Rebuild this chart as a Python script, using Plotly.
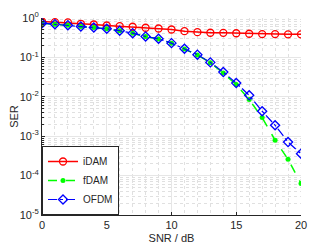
import plotly.graph_objects as go

snr = list(range(0, 21))
ser_idam = [0.815, 0.783, 0.77, 0.713, 0.684, 0.646, 0.62, 0.60, 0.565, 0.542, 0.511,
            0.463, 0.437, 0.422, 0.42, 0.41, 0.398, 0.39, 0.39, 0.385, 0.385]
ser_fdam = [0.735, 0.695, 0.655, 0.607, 0.573, 0.531, 0.472, 0.41, 0.338, 0.295, 0.228,
            0.164, 0.115, 0.073, 0.040, 0.0204, 0.0085, 0.00297, 0.00079, 0.00026, 0.000063]
ser_ofdm = [0.738, 0.697, 0.657, 0.609, 0.575, 0.533, 0.474, 0.412, 0.34, 0.297, 0.230,
            0.166, 0.117, 0.0747, 0.0424, 0.0223, 0.0109, 0.0043, 0.0019, 0.00071, 0.00036]

x_ticks = [0, 5, 10, 15, 20]
y_tickvals = [1, 1e-1, 1e-2, 1e-3, 1e-4, 1e-5]
y_ticktext = ["10<sup>0</sup>", "10<sup>-1</sup>", "10<sup>-2</sup>", "10<sup>-3</sup>",
              "10<sup>-4</sup>", "10<sup>-5</sup>"]
y_minor = [m * 10.0 ** e for e in range(-5, 0) for m in range(2, 10)]

fig = go.Figure()
fig.add_trace(go.Scatter(x=snr, y=ser_idam, name="iDAM", mode="lines+markers",
                         line=dict(color="#ff0000", width=1.5),
                         marker=dict(symbol="circle-open", size=7, color="#ff0000", line=dict(width=1.3))))
fig.add_trace(go.Scatter(x=snr, y=ser_fdam, name="fDAM", mode="lines+markers",
                         line=dict(color="#00ff00", width=1.5, dash="dash"),
                         marker=dict(symbol="circle", size=5, color="#00ff00")))
fig.add_trace(go.Scatter(x=snr, y=ser_ofdm, name="OFDM", mode="lines+markers",
                         line=dict(color="#0000ff", width=1.2, dash="dashdot"),
                         marker=dict(symbol="diamond-open", size=7, color="#0000ff", line=dict(width=1.3))))

axis_common = dict(showline=True, linecolor="#262626", linewidth=1, ticks="inside", ticklen=3,
                   tickcolor="#262626", gridcolor="#e6e6e6", gridwidth=1, zeroline=False,
                   tickfont=dict(size=11, color="#262626"), mirror=False, automargin=False)

fig.update_xaxes(range=[0, 20], tickvals=x_ticks,
                 title=dict(text="SNR / dB", font=dict(size=11, color="#262626"), standoff=4),
                 minor=dict(dtick=1, showgrid=True, griddash="dot", gridcolor="#e0e0e0", ticks=""),
                 **axis_common)
fig.update_yaxes(type="log", range=[-5, 0], tickvals=y_tickvals, ticktext=y_ticktext,
                 title=dict(text="SER", font=dict(size=11, color="#262626"), standoff=2),
                 minor=dict(tickvals=y_minor, showgrid=True, griddash="dot", gridcolor="#e0e0e0",
                            ticks="inside", ticklen=2, tickcolor="#262626"),
                 **axis_common)

fig.update_layout(width=332, height=249, margin=dict(l=34, r=39, t=9.5, b=42),
                  paper_bgcolor="white", plot_bgcolor="white",
                  font=dict(family="Liberation Sans, Arial, sans-serif", size=11, color="#262626"),
                  showlegend=True,
                  legend=dict(x=0, y=0, xanchor="left", yanchor="bottom", bgcolor="white",
                              bordercolor="#262626", borderwidth=1, font=dict(size=10),
                              tracegroupgap=0, itemwidth=30))

fig.write_html("out.html")
